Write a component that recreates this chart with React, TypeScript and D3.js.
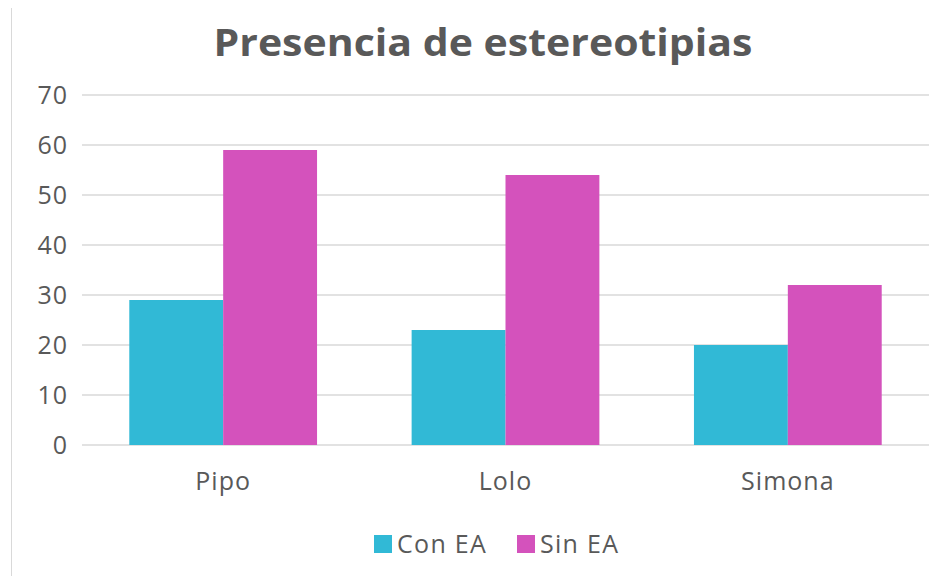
import { useEffect, useRef } from "react"
import * as d3 from "d3"

const categories = ["Pipo", "Lolo", "Simona"]
const seriesNames = ["Con EA", "Sin EA"]
const conEA = [29, 23, 20]
const sinEA = [59, 54, 32]
const yTicks = [0, 10, 20, 30, 40, 50, 60, 70]
const colors = ["#31B9D6", "#D452BC"]

const W = 940
const H = 584

export default function App() {
  const svgRef = useRef<SVGSVGElement>(null)

  useEffect(() => {
    if (!svgRef.current) return
    const svg = d3.select(svgRef.current)
    svg.selectAll("*").remove()

    const font = "'Open Sans', sans-serif"
    const textColor = "#595959"
    const margin = { top: 95, right: 11, bottom: 139, left: 82 }
    const innerW = W - margin.left - margin.right
    const innerH = H - margin.top - margin.bottom

    svg.append("rect").attr("width", W).attr("height", H).attr("fill", "#fff")

    // outer frame (only top and left are visible in the picture)
    svg.append("line").attr("x1", 11).attr("x2", W).attr("y1", 7.5).attr("y2", 7.5)
      .attr("stroke", "#d9d9d9").attr("stroke-width", 1)
    svg.append("line").attr("x1", 11.5).attr("x2", 11.5).attr("y1", 7).attr("y2", H)
      .attr("stroke", "#d9d9d9").attr("stroke-width", 1)

    svg.append("text")
      .attr("x", 483)
      .attr("y", 56)
      .attr("text-anchor", "middle")
      .attr("font-family", font)
      .attr("font-weight", "bold")
      .attr("font-size", 38)
      .attr("fill", textColor)
      .attr("textLength", 539)
      .attr("lengthAdjust", "spacingAndGlyphs")
      .text("Presencia de estereotipias")

    const g = svg.append("g").attr("transform", `translate(${margin.left},${margin.top})`)

    const x0 = d3.scaleBand().domain(categories).range([0, innerW]).paddingInner(0.335).paddingOuter(0.1675)
    const x1 = d3.scaleBand().domain(seriesNames).range([0, x0.bandwidth()])
    const y = d3.scaleLinear().domain([0, 70]).range([innerH, 0])

    // gridlines
    g.append("g")
      .selectAll("line")
      .data(yTicks)
      .join("line")
      .attr("x1", 0)
      .attr("x2", innerW)
      .attr("y1", (d) => y(d))
      .attr("y2", (d) => y(d))
      .attr("stroke", "#d9d9d9")
      .attr("stroke-width", 1.5)

    // y labels
    g.append("g")
      .selectAll("text")
      .data(yTicks)
      .join("text")
      .attr("x", -14)
      .attr("y", (d) => y(d))
      .attr("dy", "0.36em")
      .attr("text-anchor", "end")
      .attr("font-family", font)
      .attr("font-size", 25)
      .attr("letter-spacing", 1)
      .attr("fill", textColor)
      .text((d) => d)

    const series = [conEA, sinEA]
    const groups = g.append("g")
      .selectAll("g")
      .data(categories)
      .join("g")
      .attr("transform", (d) => `translate(${x0(d)},0)`)

    groups.selectAll("rect")
      .data((_, i) => seriesNames.map((s, j) => ({ s, v: series[j][i], j })))
      .join("rect")
      .attr("x", (d) => x1(d.s) as number)
      .attr("width", x1.bandwidth())
      .attr("y", (d) => y(d.v))
      .attr("height", (d) => innerH - y(d.v))
      .attr("fill", (d) => colors[d.j])

    // category labels
    g.append("g")
      .selectAll("text")
      .data(categories)
      .join("text")
      .attr("x", (d) => (x0(d) as number) + x0.bandwidth() / 2)
      .attr("y", innerH + 45)
      .attr("text-anchor", "middle")
      .attr("font-family", font)
      .attr("font-size", 25)
      .attr("letter-spacing", 1)
      .attr("fill", textColor)
      .text((d) => d)

    // legend
    const legendX = [374, 517]
    const legend = svg.append("g")
    seriesNames.forEach((s, i) => {
      legend.append("rect")
        .attr("x", legendX[i])
        .attr("y", 535)
        .attr("width", 18)
        .attr("height", 18)
        .attr("fill", colors[i])
      legend.append("text")
        .attr("x", legendX[i] + 23)
        .attr("y", 553)
        .attr("font-family", font)
        .attr("font-size", 25)
        .attr("letter-spacing", 1.3)
        .attr("fill", textColor)
        .text(s)
    })
  }, [])

  return (
    <div style={{ margin: -8 }}>
      <svg ref={svgRef} width={W} height={H} style={{ display: "block" }} />
    </div>
  )
}
